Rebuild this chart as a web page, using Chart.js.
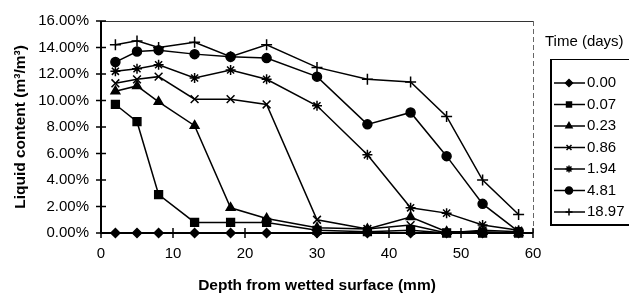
<!DOCTYPE html>
<html lang="en">
<head>
    <meta charset="UTF-8">
    <title>Liquid content vs depth</title>
    <script src="https://cdn.jsdelivr.net/npm/chart.js"></script>
    <style>
        body {
            margin: 0;
            background: white;
        }
        .chart-container {
            width: 629px;
            height: 300px;
        }
    </style>
</head>
<body>
    <div class="chart-container">
        <canvas id="liquidChart"></canvas>
    </div>

    <script>
        // depth from wetted surface (mm)
        const depths = [2, 5, 8, 13, 18, 23, 30, 37, 43, 48, 53, 58];

        // time labels (days)
        const timeLabels = ["0.00", "0.07", "0.23", "0.86", "1.94", "4.81", "18.97"];

        // liquid content (%) per time
        const day000 = [0, 0, 0, 0, 0, 0, 0, 0, 0, 0, 0, 0];
        const day007 = [9.7, 8.4, 2.9, 0.8, 0.8, 0.8, 0.2, 0.1, 0.2, 0, 0, 0];
        const day023 = [10.7, 11.1, 9.9, 8.1, 1.9, 1.1, 0.4, 0.3, 1.2, 0.1, 0.1, 0];
        const day086 = [11.3, 11.6, 11.8, 10.1, 10.1, 9.7, 1.0, 0.3, 0.6, 0, 0.2, 0.1];
        const day194 = [12.2, 12.4, 12.7, 11.7, 12.3, 11.6, 9.6, 5.9, 1.9, 1.5, 0.6, 0.2];
        const day481 = [12.9, 13.7, 13.8, 13.5, 13.3, 13.2, 11.8, 8.2, 9.1, 5.8, 2.2, 0.1];
        const day1897 = [14.2, 14.5, 14.0, 14.4, 13.3, 14.2, 12.5, 11.6, 11.4, 8.8, 4.0, 1.4];

        const yTicks = [0, 2, 4, 6, 8, 10, 12, 14, 16];
        const xTicks = [0, 10, 20, 30, 40, 50, 60];

        const seriesValues = [day000, day007, day023, day086, day194, day481, day1897];
        const markers = ["rectRot", "rect", "triangle", "crossRot", "star", "circle", "cross"];
        const markerSizes = [4.5, 5.5, 5, 5.5, 5, 4.5, 5.5];

        const FONT = "'Liberation Sans', Arial, sans-serif";

        const datasets = seriesValues.map((vals, i) => ({
            label: timeLabels[i],
            data: vals.map((v, j) => ({ x: depths[j], y: v })),
            borderColor: "black",
            borderWidth: 1.5,
            backgroundColor: "black",
            pointStyle: markers[i],
            pointRadius: markerSizes[i],
            pointBackgroundColor: "black",
            pointBorderColor: "black",
            pointBorderWidth: 1.5,
            tension: 0,
            fill: false,
            clip: false,
        }));

        // axes with crossing ticks, plus the framed legend on the right
        const framePlugin = {
            id: "frame",
            afterDraw(chart) {
                const { ctx, chartArea: a, scales } = chart;
                ctx.save();

                // top and right border
                ctx.strokeStyle = "#333";
                ctx.lineWidth = 1;
                ctx.beginPath();
                ctx.moveTo(a.left, a.top + 0.5);
                ctx.lineTo(a.right, a.top + 0.5);
                ctx.stroke();
                ctx.strokeStyle = "#666";
                ctx.setLineDash([5, 3]);
                ctx.beginPath();
                ctx.moveTo(a.right + 0.5, a.top);
                ctx.lineTo(a.right + 0.5, a.bottom);
                ctx.stroke();
                ctx.setLineDash([]);

                // main axes
                ctx.strokeStyle = "black";
                ctx.lineWidth = 2;
                ctx.beginPath();
                ctx.moveTo(a.left, a.top);
                ctx.lineTo(a.left, a.bottom);
                ctx.lineTo(a.right, a.bottom);
                ctx.stroke();

                ctx.lineWidth = 1.5;
                yTicks.forEach(v => {
                    const y = scales.y.getPixelForValue(v);
                    ctx.beginPath();
                    ctx.moveTo(a.left - 5, y);
                    ctx.lineTo(a.left + 5, y);
                    ctx.stroke();
                });
                xTicks.forEach(v => {
                    const x = scales.x.getPixelForValue(v);
                    ctx.beginPath();
                    ctx.moveTo(x, a.bottom - 5);
                    ctx.lineTo(x, a.bottom + 5);
                    ctx.stroke();
                });

                // legend
                ctx.fillStyle = "black";
                ctx.font = "15px " + FONT;
                ctx.textBaseline = "middle";
                ctx.textAlign = "left";
                ctx.fillText("Time (days)", 545, 42);

                ctx.lineWidth = 1;
                ctx.beginPath();
                ctx.moveTo(550, 59.5);
                ctx.lineTo(629, 59.5);
                ctx.stroke();
                ctx.lineWidth = 2;
                ctx.beginPath();
                ctx.moveTo(551, 59);
                ctx.lineTo(551, 226);
                ctx.moveTo(550, 225);
                ctx.lineTo(629, 225);
                ctx.stroke();

                chart.data.datasets.forEach((ds, i) => {
                    const y = 83 + i * 21.5;
                    ctx.lineWidth = 1.5;
                    ctx.beginPath();
                    ctx.moveTo(554, y);
                    ctx.lineTo(585, y);
                    ctx.stroke();
                    Chart.helpers.drawPoint(ctx, {
                        pointStyle: ds.pointStyle,
                        radius: 3.5,
                        borderWidth: 1.5,
                        rotation: 0,
                    }, 569, y);
                    ctx.fillText(ds.label, 587, y);
                });

                ctx.restore();
            },
        };

        const ctx = document.getElementById("liquidChart").getContext("2d");
        new Chart(ctx, {
            type: "line",
            data: { datasets: datasets },
            options: {
                responsive: true,
                maintainAspectRatio: false,
                animation: false,
                layout: { padding: { top: 12, right: 96, left: 0, bottom: 0 } },
                plugins: {
                    legend: { display: false },
                    tooltip: { enabled: false },
                },
                scales: {
                    x: {
                        type: "linear",
                        min: 0,
                        max: 60,
                        grid: { display: false, drawTicks: false },
                        border: { display: false },
                        ticks: {
                            stepSize: 10,
                            padding: 12,
                            color: "black",
                            font: { family: FONT, size: 15 },
                            maxRotation: 0,
                        },
                        title: {
                            display: true,
                            text: "Depth from wetted surface (mm)",
                            color: "black",
                            font: { family: FONT, size: 15.5, weight: "bold" },
                            padding: { top: 0, bottom: 5 },
                        },
                        afterFit(scale) { scale.height = 67; },
                    },
                    y: {
                        min: 0,
                        max: 16,
                        grid: { display: false, drawTicks: false },
                        border: { display: false },
                        ticks: {
                            stepSize: 2,
                            padding: 12,
                            color: "black",
                            font: { family: FONT, size: 15 },
                            callback: v => v.toFixed(2) + "%",
                        },
                        title: {
                            display: true,
                            text: "Liquid content (m³/m³)",
                            color: "black",
                            font: { family: FONT, size: 15.5, weight: "bold" },
                            padding: { top: 11, bottom: 0 },
                        },
                        afterFit(scale) { scale.width = 101; },
                    },
                },
            },
            plugins: [framePlugin],
        });
    </script>
</body>
</html>
